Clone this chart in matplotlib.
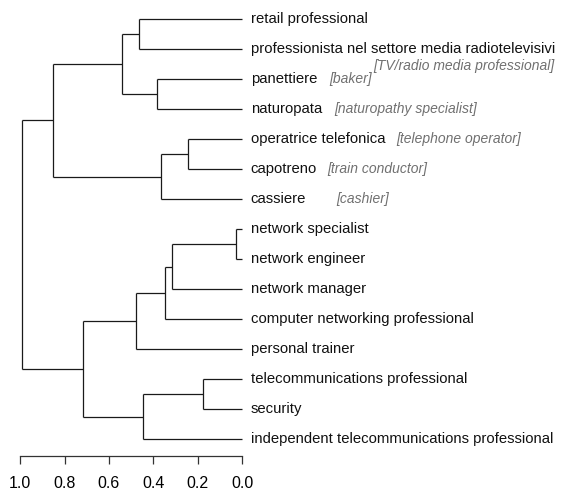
import matplotlib
matplotlib.use("Agg")
import matplotlib.pyplot as plt

plt.rcParams['font.family'] = ['Liberation Sans', 'DejaVu Sans']

# leaves, top to bottom
leaves = [
    "retail professional",
    "professionista nel settore media radiotelevisivi",
    "panettiere",
    "naturopata",
    "operatrice telefonica",
    "capotreno",
    "cassiere",
    "network specialist",
    "network engineer",
    "network manager",
    "computer networking professional",
    "personal trainer",
    "telecommunications professional",
    "security",
    "independent telecommunications professional",
]
translations = {
    1: "[TV/radio media professional]",
    2: "[baker]",
    3: "[naturopathy specialist]",
    4: "[telephone operator]",
    5: "[train conductor]",
    6: "[cashier]",
}
# merges: ids 0-14 are leaves, merge k gets id 15+k
merge_left = [0, 2, 15, 4, 18, 17, 7, 21, 22, 23, 12, 25, 24, 20]
merge_right = [1, 3, 16, 5, 6, 19, 8, 9, 10, 11, 13, 14, 26, 27]
merge_height = [0.465, 0.382, 0.541, 0.245, 0.367, 0.851, 0.027,
                0.317, 0.349, 0.479, 0.176, 0.447, 0.716, 0.991]
ticks = [1.0, 0.8, 0.6, 0.4, 0.2, 0.0]

# offsets of the translations (pixels from x=0, pixels down from leaf)
tr_style = {
    1: (313, 17, 'right'),
    2: (87, 0, 'left'),
    3: (92, 0, 'left'),
    4: (154, 0, 'left'),
    5: (85, 0, 'left'),
    6: (94, 0, 'left'),
}

fig = plt.figure(figsize=(5.64, 4.97), dpi=100)
ax = fig.add_axes([20.3 / 564, (497 - 455.7) / 497, 221.7 / 564, (455.7 - 19) / 497])

n = len(leaves)
pos = {i: float(i) for i in range(n)}
hgt = {i: 0.0 for i in range(n)}
lc = '#1a1a1a'
lw = 0.9
for k, (l, r, h) in enumerate(zip(merge_left, merge_right, merge_height)):
    for c in (l, r):
        ax.plot([h, hgt[c]], [pos[c], pos[c]], color=lc, lw=lw, clip_on=False,
                solid_capstyle='butt')
    ax.plot([h, h], [pos[l], pos[r]], color=lc, lw=lw, clip_on=False,
            solid_capstyle='butt')
    pos[n + k] = (pos[l] + pos[r]) / 2
    hgt[n + k] = h

px = 72 / 100
for i, name in enumerate(leaves):
    ax.annotate(name, (0, i), xytext=(8.7 * px, 0), textcoords='offset points',
                ha='left', va='center', fontsize=10.75, color='#111111',
                annotation_clip=False)
for i, t in translations.items():
    dx, dy, ha = tr_style[i]
    ax.annotate(t, (0, i), xytext=(dx * px, -dy * px), textcoords='offset points',
                ha=ha, va='center', fontsize=10, style='italic', color='#707070',
                annotation_clip=False)

ax.set_xlim(1.0, 0.0)
ax.set_ylim(14 + (455.7 - 439) / 30, 0)
for s in ('top', 'right', 'left'):
    ax.spines[s].set_visible(False)
ax.spines['bottom'].set_color('#333333')
ax.spines['bottom'].set_linewidth(0.9)
ax.set_yticks([])
ax.set_xticks(ticks)
ax.set_xticklabels([f"{t:.1f}" for t in ticks])
ax.tick_params(axis='x', direction='out', length=8 * px, width=0.9, color='#333333',
               pad=8.5, labelsize=11.5)
ax.patch.set_visible(False)

fig.savefig("out.png", dpi=100)
